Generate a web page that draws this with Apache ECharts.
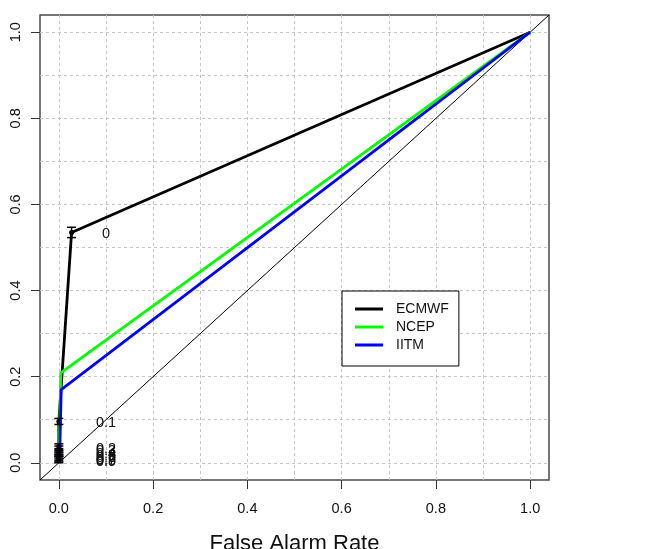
<!DOCTYPE html>
<html>
<head>
<meta charset="utf-8">
<script src="https://cdn.jsdelivr.net/npm/echarts@6/dist/echarts.min.js"></script>
<style>
  html, body { margin: 0; padding: 0; background: #ffffff; }
  #chart { width: 654px; height: 549px; }
</style>
</head>
<body>
<div id="chart"></div>
<script>
// ROC diagram: hit rate against false alarm rate for three forecast systems.

// Axis tick labels and the finer reference grid
const tickValues = [0, 0.2, 0.4, 0.6, 0.8, 1.0];
const gridValues = [0, 0.1, 0.2, 0.3, 0.4, 0.5, 0.6, 0.7, 0.8, 0.9, 1.0];

// ECMWF probability thresholds with their (false alarm rate, hit rate) and hit-rate bounds
const ecmwfThresholds = ['0', '0.1', '0.2', '0.3', '0.4', '0.5', '0.6', '0.7', '0.8', '0.9'];
const ecmwfFar = [0.027, 0.0, 0.0, 0.0, 0.0, 0.0, 0.0, 0.0, 0.0, 0.0];
const ecmwfHit = [0.535, 0.096, 0.037, 0.032, 0.026, 0.021, 0.016, 0.012, 0.009, 0.007];
const ecmwfHitLow = [0.523, 0.089, 0.030, 0.025, 0.019, 0.014, 0.009, 0.005, 0.002, 0.000];
const ecmwfHitHigh = [0.547, 0.103, 0.044, 0.039, 0.033, 0.028, 0.023, 0.019, 0.016, 0.014];

// NCEP and IITM curves
const ncepFar = [0, 0.001, 0.004, 1];
const ncepHit = [0, 0.030, 0.209, 1];
const iitmFar = [0, 0.002, 0.005, 1];
const iitmHit = [0, 0.030, 0.170, 1];

// Column where threshold labels are written
const labelColumn = 0.1;

// Plot range (4% padding either side of [0, 1])
const axisMin = -0.04;
const axisMax = 1.04;

const FONT = '"Liberation Sans", Arial, sans-serif';
const TEXT = '#111111';

const ecmwfLine = [{ value: [1, 1], symbol: 'none' }]
  .concat(ecmwfFar.map((x, i) => [x, ecmwfHit[i]]))
  .concat([{ value: [0, 0], symbol: 'none' }]);
const ncepLine = ncepFar.map((x, i) => [x, ncepHit[i]]);
const iitmLine = iitmFar.map((x, i) => [x, iitmHit[i]]);
const errorData = ecmwfFar.map((x, i) => [x, ecmwfHitLow[i], ecmwfHitHigh[i]]);
const labelData = ecmwfThresholds.map((t, i) => [labelColumn, ecmwfHit[i], t]);

function valueAxis(isX, withLabels) {
  return {
    type: 'value',
    min: axisMin,
    max: axisMax,
    position: isX ? 'bottom' : 'left',
    axisLine: { show: false, onZero: false },
    axisTick: withLabels
      ? { show: true, inside: false, customValues: tickValues, length: 9, lineStyle: { color: '#333', width: 1 } }
      : { show: false, customValues: gridValues },
    axisLabel: withLabels
      ? {
          show: true,
          customValues: tickValues,
          formatter: v => v.toFixed(1),
          fontFamily: FONT,
          fontSize: 14.5,
          color: TEXT,
          margin: isX ? 21 : 17,
          rotate: isX ? 0 : 90
        }
      : { show: false },
    splitLine: withLabels
      ? { show: false }
      : { show: true, lineStyle: { color: '#c4c4c4', width: 1, type: [3, 3] } }
  };
}

const xAxes = [valueAxis(true, true), valueAxis(true, false)];
xAxes[0].name = 'False Alarm Rate';
xAxes[0].nameLocation = 'middle';
xAxes[0].nameGap = 53;
xAxes[0].nameTextStyle = { fontFamily: FONT, fontSize: 22, color: TEXT };

const chart = echarts.init(document.getElementById('chart'), null, { renderer: 'canvas' });

chart.setOption({
  animation: false,
  backgroundColor: '#ffffff',
  grid: {
    left: 40, right: 105, top: 15, bottom: 69,
    outerBoundsMode: 'none',
    containLabel: false,
    show: true, borderColor: '#4a4a4a', borderWidth: 1.5, backgroundColor: 'transparent'
  },
  xAxis: xAxes,
  yAxis: [valueAxis(false, true), valueAxis(false, false)],
  legend: {
    orient: 'vertical',
    left: 342,
    top: 291,
    data: ['ECMWF', 'NCEP', 'IITM'],
    icon: 'rect',
    itemWidth: 28,
    itemHeight: 3,
    itemGap: 2,
    padding: [10, 10, 13, 13],
    borderColor: '#000',
    borderWidth: 1,
    backgroundColor: '#fff',
    textStyle: { fontFamily: FONT, fontSize: 14, color: TEXT, lineHeight: 16, padding: [0, 0, 0, 8] }
  },
  series: [
    {
      name: 'diagonal',
      type: 'line',
      data: [[axisMin, axisMin], [axisMax, axisMax]],
      symbol: 'none',
      lineStyle: { color: '#000', width: 1 },
      silent: true,
      z: 1
    },
    {
      name: 'ECMWF',
      type: 'line',
      data: ecmwfLine,
      symbol: 'circle',
      symbolSize: 5,
      showSymbol: true,
      itemStyle: { color: '#000' },
      lineStyle: { color: '#000', width: 2.8 },
      z: 2
    },
    {
      name: 'NCEP',
      type: 'line',
      data: ncepLine,
      symbol: 'none',
      itemStyle: { color: '#00ff00' },
      lineStyle: { color: '#00ff00', width: 2.8 },
      z: 3
    },
    {
      name: 'IITM',
      type: 'line',
      data: iitmLine,
      symbol: 'none',
      itemStyle: { color: '#0000ff' },
      lineStyle: { color: '#0000ff', width: 2.8 },
      z: 4
    },
    {
      name: 'ECMWF bounds',
      type: 'custom',
      data: errorData,
      encode: { x: 0, y: [1, 2] },
      z: 5,
      renderItem: function (params, api) {
        const x = api.value(0);
        const lo = api.coord([x, api.value(1)]);
        const hi = api.coord([x, api.value(2)]);
        const w = 4.5;
        const style = { stroke: '#000', lineWidth: 1.5 };
        return {
          type: 'group',
          children: [
            { type: 'line', shape: { x1: lo[0], y1: lo[1], x2: hi[0], y2: hi[1] }, style: style },
            { type: 'line', shape: { x1: lo[0] - w, y1: lo[1], x2: lo[0] + w, y2: lo[1] }, style: style },
            { type: 'line', shape: { x1: hi[0] - w, y1: hi[1], x2: hi[0] + w, y2: hi[1] }, style: style }
          ]
        };
      }
    },
    {
      name: 'thresholds',
      type: 'scatter',
      data: labelData,
      symbol: 'circle',
      symbolSize: 0,
      silent: true,
      z: 6,
      itemStyle: { opacity: 1 },
      label: {
        show: true,
        position: 'inside',
        offset: [0, 2],
        formatter: p => p.data[2],
        fontFamily: FONT,
        fontSize: 14.5,
        color: TEXT,
        opacity: 1
      }
    }
  ]
});
</script>
</body>
</html>
